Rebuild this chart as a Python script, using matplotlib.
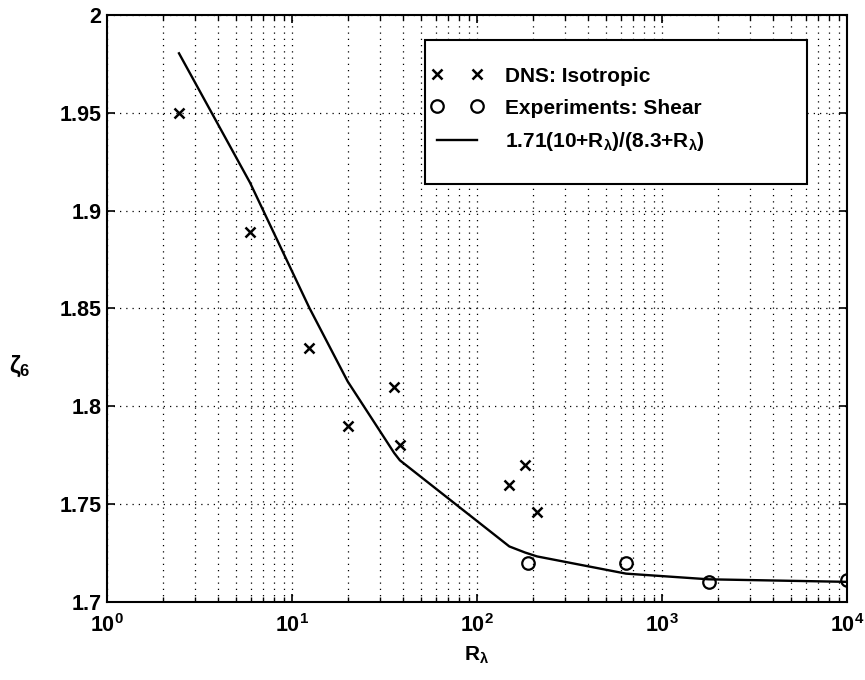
import matplotlib
matplotlib.use("Agg")
import matplotlib.pyplot as plt
from matplotlib.patches import Rectangle
from matplotlib.ticker import FixedLocator, FuncFormatter, LogLocator, NullFormatter

# DNS (isotropic) points
DNS_R = [2.45, 5.93, 12.4, 20.0, 35.7, 38.3, 149.5, 181.7, 211.0]
DNS_ZETA = [1.950, 1.889, 1.830, 1.790, 1.810, 1.780, 1.760, 1.770, 1.746]

# experiments (shear)
EXP_R = [188.7, 639.0, 1787.0, 10000.0]
EXP_ZETA = [1.720, 1.720, 1.7104, 1.711]

# fit curve 1.71(10+R)/(8.3+R), as drawn through the data R values
FIT_R = [2.45, 5.93, 12.4, 20.0, 35.7, 38.3, 149.5, 181.7, 188.7, 211.0, 639.0, 1787.0, 10000.0]
FIT_ZETA = [1.9804, 1.9143, 1.8504, 1.8127, 1.7761, 1.7724, 1.7284, 1.7253, 1.7248,
            1.7233, 1.7145, 1.7116, 1.7103]

Y_TICKS = [1.7, 1.75, 1.8, 1.85, 1.9, 1.95, 2.0]

plt.rcParams["font.family"] = ["Liberation Sans", "DejaVu Sans"]
plt.rcParams["mathtext.fontset"] = "custom"
plt.rcParams["mathtext.rm"] = "Liberation Sans:bold"
plt.rcParams["mathtext.it"] = "Liberation Sans:bold"
plt.rcParams["mathtext.bf"] = "Liberation Sans:bold"

fig = plt.figure(figsize=(8.65, 6.8), dpi=100)
ax = fig.add_axes([0.1237, 0.1147, 0.9792 - 0.1237, 0.978 - 0.1147])

ax.plot(DNS_R, DNS_ZETA, "x", color="black", markersize=6.5, mew=1.8,
        label="DNS: Isotropic")
ax.plot(EXP_R, EXP_ZETA, "o", color="black", markerfacecolor="none", markersize=9,
        mew=1.6, label="Experiments: Shear")
ax.plot(FIT_R, FIT_ZETA, "-", color="black", linewidth=1.7,
        label=r"1.71(10+R$_\lambda$)/(8.3+R$_\lambda$)")

ax.set_xscale("log")
ax.set_xlim(1, 1e4)
ax.set_ylim(1.7, 2.0)
ax.yaxis.set_major_locator(FixedLocator(Y_TICKS))
ax.yaxis.set_major_formatter(FuncFormatter(lambda v, p: f"{v:g}"))
ax.xaxis.set_major_locator(LogLocator(base=10, numticks=10))
ax.xaxis.set_minor_locator(LogLocator(base=10, subs=range(2, 10), numticks=50))
ax.xaxis.set_minor_formatter(NullFormatter())

ax.grid(True, which="major", axis="both", linestyle=(0, (1, 4)), color="black", linewidth=0.9)
ax.grid(True, which="minor", axis="x", linestyle=(0, (1, 4)), color="black", linewidth=0.9)

ax.tick_params(axis="y", which="major", direction="in", length=6, width=1.2,
               labelsize=15.5, right=True, pad=4)
ax.tick_params(axis="x", which="major", direction="in", length=6, width=1.2,
               labelsize=15.5, top=True, pad=9)
ax.tick_params(axis="x", which="minor", direction="in", length=3.5, width=1, top=True)
for lbl in ax.get_xticklabels() + ax.get_yticklabels():
    lbl.set_fontweight("bold")
for spine in ax.spines.values():
    spine.set_linewidth(1.5)

ax.set_xlabel(r"R$_\lambda$", fontsize=15, fontweight="bold", labelpad=5)
ax.set_ylabel(r"$\zeta_6$", fontsize=17, rotation=0)
ax.yaxis.set_label_coords(-0.118, 0.38)

# MATLAB-style legend: wide box drawn separately, entries inside it
box = Rectangle((0.4297, 0.712), 0.516, 0.245, transform=ax.transAxes,
                facecolor="white", edgecolor="black", linewidth=1.5, zorder=5)
ax.add_patch(box)
leg = ax.legend(loc="upper left", bbox_to_anchor=(0.438, 0.912), numpoints=2,
                handlelength=2.5, handletextpad=1.05, labelspacing=0.62,
                borderpad=0, borderaxespad=0, frameon=False,
                prop={"size": 15, "weight": "bold"})
leg.set_zorder(6)

fig.savefig("out.png", dpi=100)
